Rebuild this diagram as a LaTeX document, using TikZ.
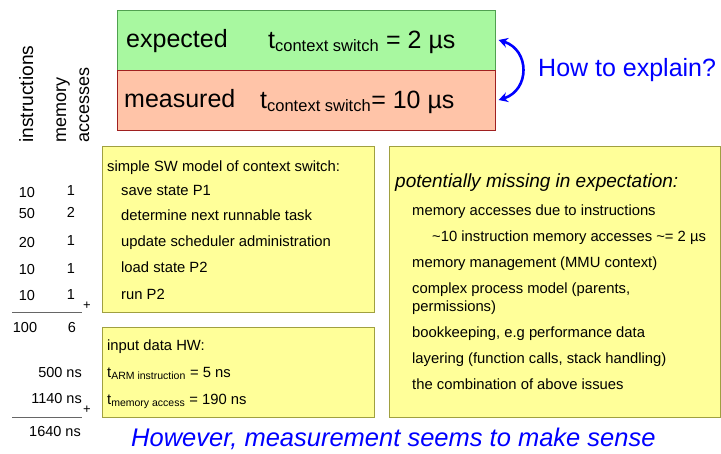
\documentclass[tikz,border=0pt]{standalone}
\usepackage{fontspec}
\setmainfont{Liberation Sans}
\usetikzlibrary{arrows.meta}
\definecolor{gfill}{HTML}{A8F8A0}
\definecolor{gdraw}{HTML}{50A050}
\definecolor{rfill}{HTML}{FFC4A8}
\definecolor{rdraw}{HTML}{A02020}
\definecolor{yfill}{HTML}{FFFF99}
\definecolor{ydraw}{HTML}{A0A040}
\definecolor{myblue}{HTML}{0000FF}
\begin{document}
\begin{tikzpicture}[x=1pt,y=-1pt,
  txt/.style={inner sep=0pt,anchor=base west,font=\fontsize{14.8}{16}\selectfont},
  num/.style={inner sep=0pt,anchor=base,font=\fontsize{14.5}{16}\selectfont},
  numr/.style={inner sep=0pt,anchor=base east,font=\fontsize{14.5}{16}\selectfont},
  big/.style={inner sep=0pt,anchor=base west,font=\fontsize{25}{27}\selectfont},
  ybox/.style={draw=ydraw,fill=yfill,line width=0.8pt},
  sumline/.style={draw=black!60,line width=1pt}]
\useasboundingbox (0,0) rectangle (721,453);
% top boxes
\path[draw=gdraw,fill=gfill,line width=0.8pt] (117,10) rectangle (495,70);
\path[draw=rdraw,fill=rfill,line width=0.8pt] (117,70) rectangle (495,130);
\node[inner sep=0pt] (green) at (495,40) {};
\node[inner sep=0pt] (red) at (495,100) {};
\node[big] (exp) at (126,47) {expected};
\node[big] (expt) at (268,48) {t\textsubscript{\fontsize{16.5}{17}\selectfont context switch} = 2 µs};
\node[big] (mea) at (124,107) {measured};
\node[big] (meat) at (260,108) {t\textsubscript{\fontsize{16.5}{17}\selectfont context switch}= 10 µs};
\draw[myblue,line width=2.6pt,{Stealth[length=9pt,width=10pt]}-{Stealth[length=9pt,width=10pt]}]
  ([xshift=3pt]green.east) .. controls (530,50) and (530,90) .. ([xshift=3pt]red.east);
\node[inner sep=0pt,anchor=west,text=myblue,font=\fontsize{25}{27}\selectfont] (how) at (538,70) {How to explain?};
% rotated headers
\node[inner sep=0pt,anchor=base west,rotate=90,font=\fontsize{19.2}{20}\selectfont] (hinstr) at (33,143) {instructions};
\node[inner sep=0pt,anchor=base west,rotate=90,font=\fontsize{18}{20}\selectfont] (hmem) at (66,143) {memory};
\node[inner sep=0pt,anchor=base west,rotate=90,font=\fontsize{18}{20}\selectfont] (hacc) at (89,143) {accesses};
% SW model box
\path[ybox] (102,146) rectangle (374,312);
\node[txt] (sw0) at (107,171) {simple SW model of context switch:};
\node[txt] (sw1) at (121,195) {save state P1};
\node[txt] (sw2) at (121,220) {determine next runnable task};
\node[txt] (sw3) at (121,246) {update scheduler administration};
\node[txt] (sw4) at (121,272) {load state P2};
\node[txt] (sw5) at (121,299) {run P2};
% numbers
\node[num] (i1) at (27,197) {10};  \node[num] (m1) at (71,195) {1};
\node[num] (i2) at (27,218) {50};  \node[num] (m2) at (71,217) {2};
\node[num] (i3) at (27,247) {20};  \node[num] (m3) at (71,245) {1};
\node[num] (i4) at (27,274) {10};  \node[num] (m4) at (71,273) {1};
\node[num] (i5) at (27,300) {10};  \node[num] (m5) at (71,299) {1};
\node[inner sep=0pt,font=\fontsize{13}{14}\selectfont] (p1) at (87,306) {+};
\coordinate (l1a) at (12,312); \coordinate (l1b) at (82,312);
\draw[sumline] (l1a) -- (l1b);
\node[num] (isum) at (25,332) {100}; \node[num] (msum) at (72,332) {6};
% HW box
\path[ybox] (102,327) rectangle (374,417);
\node[txt] (hw0) at (107,350) {input data HW:};
\node[txt] (hw1) at (107,377) {t\textsubscript{\fontsize{10.5}{11}\selectfont ARM instruction} = 5 ns};
\node[txt] (hw2) at (107,404) {t\textsubscript{\fontsize{10.5}{11}\selectfont memory access} = 190 ns};
\node[numr] (ns1) at (82,377) {500 ns};
\node[numr] (ns2) at (82,403) {1140 ns};
\node[inner sep=0pt,font=\fontsize{13}{14}\selectfont] (p2) at (87,410) {+};
\coordinate (l2a) at (12,417); \coordinate (l2b) at (82,417);
\draw[sumline] (l2a) -- (l2b);
\node[numr] (ns3) at (81,436) {1640 ns};
% missing box
\path[ybox] (389,146) rectangle (720,417);
\node[inner sep=0pt,anchor=base west,font=\fontsize{19}{20}\selectfont\itshape] (pm0) at (395,187) {potentially missing in expectation:};
\node[txt] (pm1) at (412,215) {memory accesses due to instructions};
\node[txt] (pm2) at (432,241) {\textasciitilde10 instruction memory accesses \textasciitilde= 2 µs};
\node[txt] (pm3) at (412,267) {memory management (MMU context)};
\node[txt] (pm4) at (412,293) {complex process model (parents,};
\node[txt] (pm4b) at (412,311) {permissions)};
\node[txt] (pm5) at (412,337) {bookkeeping, e.g performance data};
\node[txt] (pm6) at (412,363) {layering (function calls, stack handling)};
\node[txt] (pm7) at (412,389) {the combination of above issues};
% bottom line
\node[inner sep=0pt,anchor=base west,text=myblue,font=\fontsize{25.5}{27}\selectfont\itshape] (however) at (131,446) {However, measurement seems to make sense};
\end{tikzpicture}
\end{document}
